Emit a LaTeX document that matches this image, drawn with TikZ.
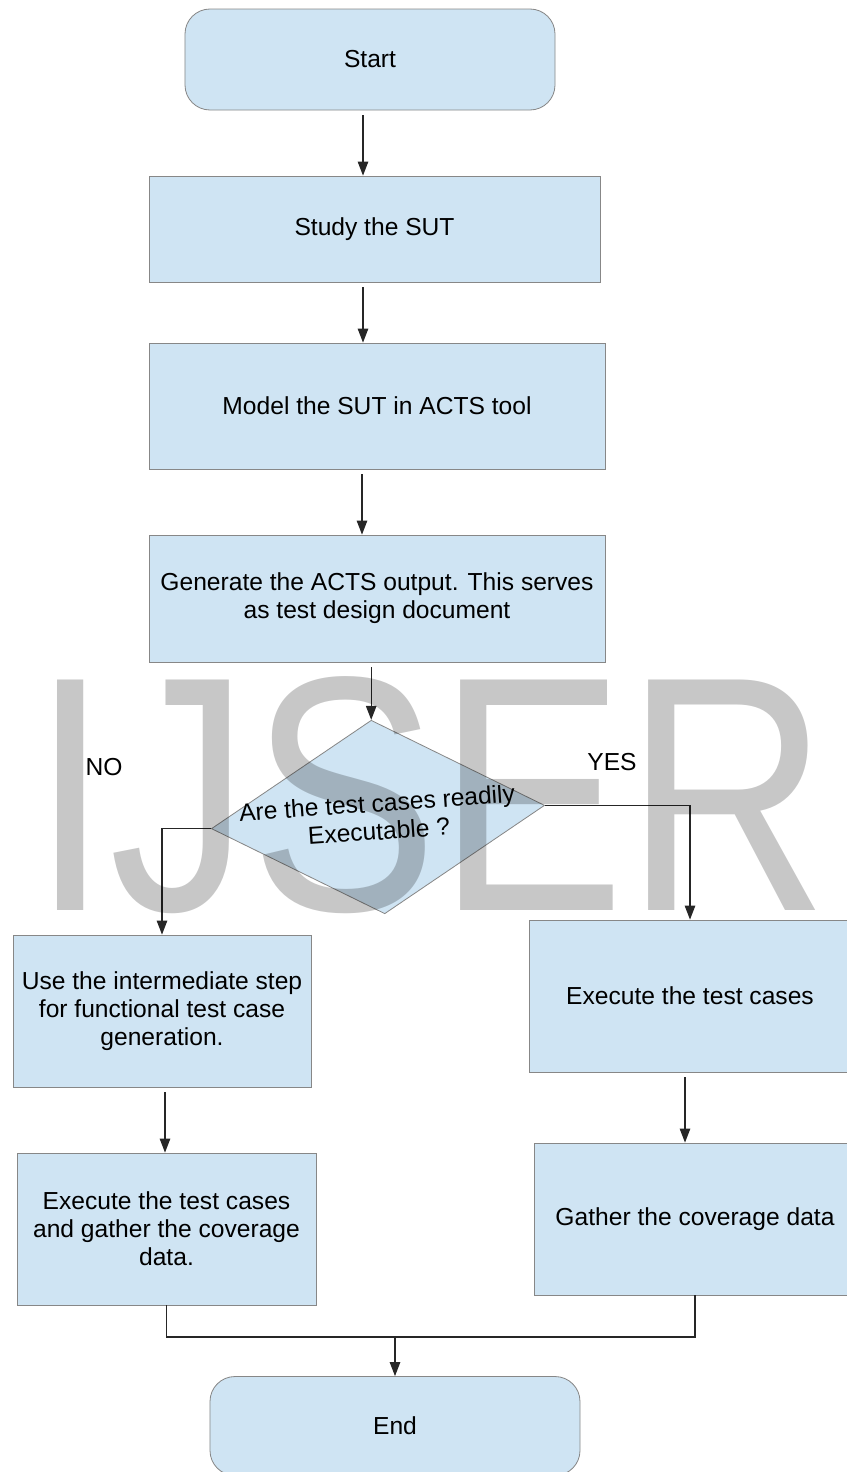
\documentclass[tikz,border=0pt]{standalone}
\usepackage{fontspec}
\setmainfont{Liberation Sans}
\usetikzlibrary{shapes.geometric,arrows.meta}
\definecolor{boxfill}{RGB}{207,228,243}
\definecolor{boxedge}{RGB}{135,135,135}

\begin{document}
\begin{tikzpicture}[x=0.03cm,y=-0.03cm,
	box/.style={draw=boxedge,fill=boxfill,line width=0.7pt,align=center,inner sep=0pt,font=\fontsize{21}{24}\selectfont},
	terminal/.style={box,rounded corners=0.75cm,minimum width=11.1cm},
	decision/.style={box,diamond,minimum width=10.02cm,minimum height=5.82cm,rotate=4},
	wire/.style={draw=black!85,line width=1pt},
	flow/.style={wire,-{Triangle[length=12pt,width=9pt]}},
	gap/.style={shorten <=4pt},
	tag/.style={font=\fontsize{21}{24}\selectfont,inner sep=0pt},
	wmark/.style={text=black,text opacity=0.22,font=\fontsize{286}{300}\selectfont,inner sep=0pt,anchor=base}]
	\clip (0,0) rectangle (847,1472);
	
	\node[terminal,minimum height=3.03cm] (start) at (370,59.5) {Start};
	\node[box,minimum width=13.53cm,minimum height=3.18cm] (study) at (374.5,229) {Study the SUT};
	\node[box,minimum width=13.68cm,minimum height=3.78cm] (model) at (377,406) {Model the SUT in ACTS tool};
	\node[box,minimum width=13.68cm,minimum height=3.81cm] (generate) at (377,598.5) {Generate the ACTS output. This serves\\as test design document};
	\node[decision] (check) at (378,817) {};
	\node[tag,rotate=4,align=center] (checktext) at (check.center) {Are the test cases readily\\Executable ?};
	\node[tag] (no) at (104,767) {NO};
	\node[tag] (yes) at (612,762) {YES};
	\node[box,minimum width=8.94cm,minimum height=4.56cm] (use) at (162,1011) {Use the intermediate step\\for functional test case\\generation.};
	\node[box,minimum width=8.97cm,minimum height=4.56cm] (execgather) at (166.5,1229) {Execute the test cases\\and gather the coverage\\data.};
	\node[box,minimum width=9.66cm,minimum height=4.56cm] (exec) at (690,996) {Execute the test cases};
	\node[box,minimum width=9.66cm,minimum height=4.56cm] (gather) at (695,1219) {Gather the coverage data};
	\node[terminal,minimum height=2.97cm] (finish) at (395,1426) {End};
	\coordinate (join) at (395,1337);
	
	\draw[flow,gap] ([xshift=-0.21cm]start.south) -- ([xshift=-0.21cm]start.south |- study.north);
	\draw[flow,gap] ([xshift=-0.345cm]study.south) -- ([xshift=-0.345cm]study.south |- model.north);
	\draw[flow,gap] ([xshift=-0.45cm]model.south) -- ([xshift=-0.45cm]model.south |- generate.north);
	\draw[flow,gap] (check.north |- generate.south) -- (check.north);
	\draw[flow] (check.west) -| (use.north);
	\draw[flow] (check.east) -| (exec.north);
	\draw[flow,gap] ([xshift=0.09cm]use.south) -- ([xshift=0.09cm]use.south |- execgather.north);
	\draw[flow,gap] ([xshift=-0.15cm]exec.south) -- ([xshift=-0.15cm]exec.south |- gather.north);
	\draw[wire] (execgather.south) |- (join);
	\draw[wire] (gather.south) |- (join);
	\draw[flow] (join) -- (finish.north);
	
	\node[wmark] (mark) at (430,910) {\scalebox{0.84}[1]{IJSER}};
\end{tikzpicture}
\end{document}
